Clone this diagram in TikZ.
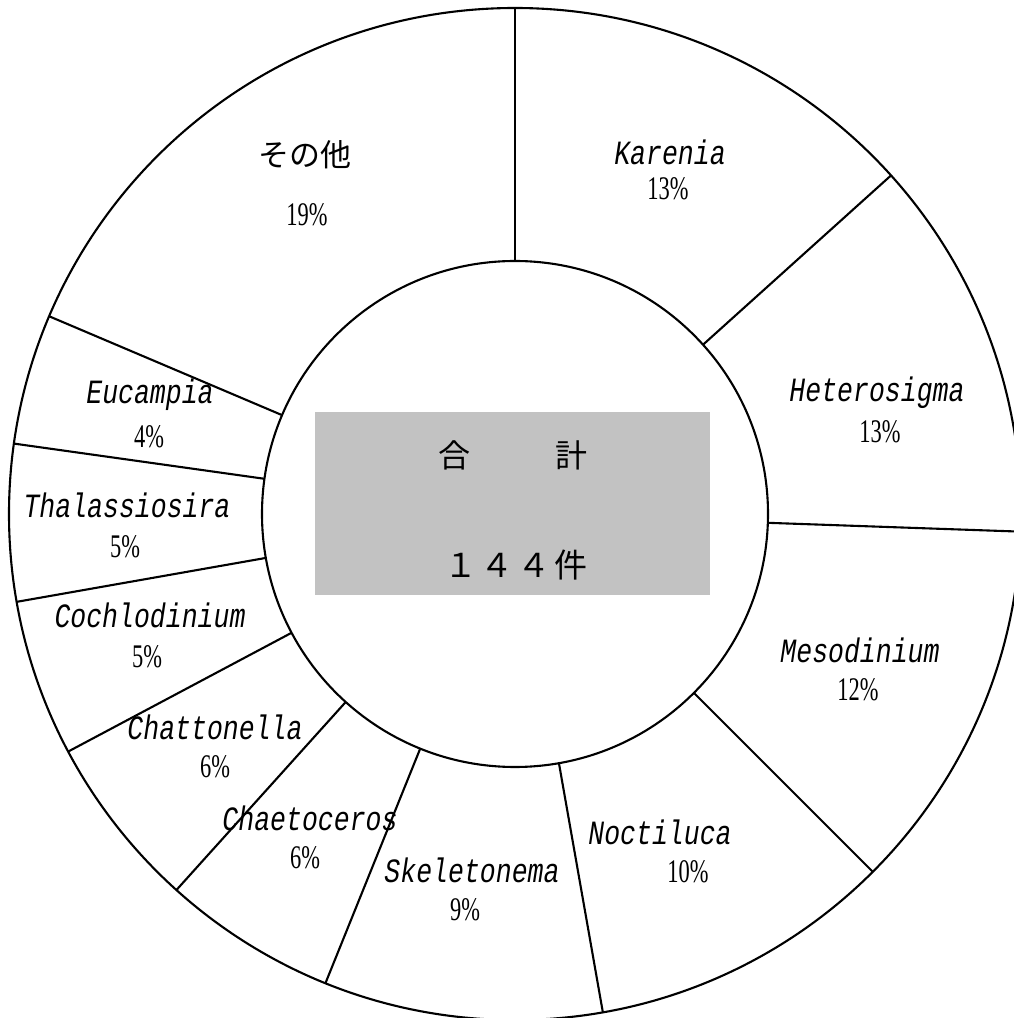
\documentclass[tikz,border=0pt]{standalone}
\usepackage{fontspec}
\newfontfamily\namefont{Liberation Mono}
\newfontfamily\pctfont{Liberation Serif}
\newfontfamily\cjk{Noto Sans CJK JP}
\newcommand\spname[1]{\scalebox{0.78}[1]{#1}}
\newcommand\sppct[1]{\scalebox{0.68}[1]{#1}}
\tikzset{
  ring/.style={circle, draw, line width=2.1pt, inner sep=0pt, outer sep=0pt},
  sepline/.style={line width=2.1pt},
  genus/.style={font=\namefont\itshape\fontsize{34}{34}\selectfont, inner sep=0pt},
  share/.style={font=\pctfont\fontsize{33}{33}\selectfont, inner sep=0pt},
  jp/.style={font=\cjk\fontsize{31}{31}\selectfont, inner sep=0pt},
  totalbox/.style={fill=black!24, draw=none, inner sep=0pt, outer sep=0pt, minimum width=395pt, minimum height=183pt},
}
\begin{document}
\begin{tikzpicture}[x=1pt,y=1pt]
\clip (0,0) rectangle (1014,1018);
\fill[white] (0,0) rectangle (1014,1018);
\coordinate (C) at (515,504);
\node[ring, minimum size=1012pt] (out) at (C) {};
\node[ring, minimum size=506pt] (in) at (C) {};
\foreach \a in {90,42.5,-2.5,-45,-80,-112.5,-132.5,-152.5,-170,172.5,157.5}
  \draw[sepline] (in.\a) -- (out.\a);
\node[totalbox] (box) at (512.5,514.5) {};
\node[font=\cjk\fontsize{32}{32}\selectfont, inner sep=0pt] (t1) at (513,563) {合\hspace{85pt}計};
\node[font=\cjk\fontsize{33}{33}\selectfont, inner sep=0pt] (t2) at (516,453) {１\hspace{4pt}４\hspace{4pt}４\hspace{4pt}件};
% labels
\node[genus] (g1) at (670,866) {\spname{Karenia}};
\node[share] (p1) at (668,829) {\sppct{13\%}};
\node[genus] (g2) at (877,625) {\spname{Heterosigma}};
\node[share] (p2) at (880,586) {\sppct{13\%}};
\node[genus] (g3) at (860,368) {\spname{Mesodinium}};
\node[share] (p3) at (858,328) {\sppct{12\%}};
\node[genus] (g4) at (660,186) {\spname{Noctiluca}};
\node[share] (p4) at (688,146) {\sppct{10\%}};
\node[genus] (g5) at (472,148) {\spname{Skeletonema}};
\node[share] (p5) at (465,108) {\sppct{9\%}};
\node[genus] (g6) at (310,200) {\spname{Chaetoceros}};
\node[share] (p6) at (305,160) {\sppct{6\%}};
\node[genus] (g7) at (215,291) {\spname{Chattonella}};
\node[share] (p7) at (215,251) {\sppct{6\%}};
\node[genus] (g8) at (150,403) {\spname{Cochlodinium}};
\node[share] (p8) at (147,361) {\sppct{5\%}};
\node[genus] (g9) at (127,513) {\spname{Thalassiosira}};
\node[share] (p9) at (125,471) {\sppct{5\%}};
\node[genus] (g10) at (150,623) {\spname{Eucampia}};
\node[share] (p10) at (149,581) {\sppct{4\%}};
\node[jp] (g11) at (305,863) {その他};
\node[share] (p11) at (307,803) {\sppct{19\%}};
\end{tikzpicture}
\end{document}
